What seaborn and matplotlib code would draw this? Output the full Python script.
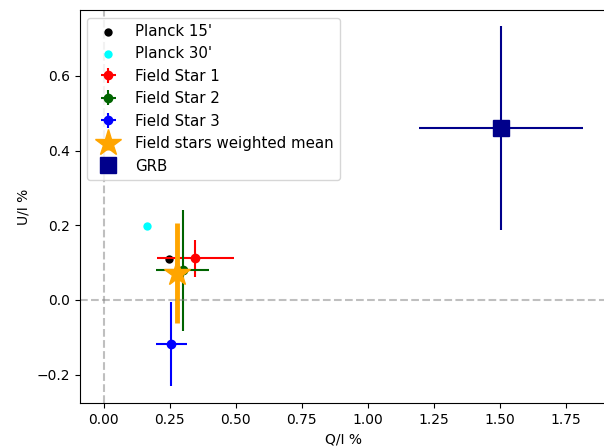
import numpy as np
import pandas as pd
import matplotlib
matplotlib.use('Agg')
import matplotlib.pyplot as plt
import seaborn as sns

# Planck 偏振点
planck_labels = ["Planck 15'", "Planck 30'"]
planck_q = [0.249, 0.165]
planck_u = [0.110, 0.198]
planck_colors = ['black', 'cyan']

# 视场星 (Q, U 及误差)
star_labels = ['Field Star 1', 'Field Star 2', 'Field Star 3']
star_q = [0.347, 0.299, 0.257]
star_u = [0.111, 0.080, -0.118]
star_qerr = [0.146, 0.100, 0.058]
star_uerr = [0.050, 0.162, 0.112]
star_colors = ['red', 'darkgreen', 'blue']

# 加权平均
mean_q = [0.278]
mean_u = [0.072]
mean_uerr = [0.133]

# GRB
grb_q = [1.505]
grb_u = [0.460]
grb_qerr = [0.310]
grb_uerr = [0.274]

fig = plt.figure(figsize=(6.04, 4.48), dpi=100)
ax = fig.add_axes([0.1318, 0.1004, 0.873, 0.877])

planck_df = pd.DataFrame({'Q': planck_q, 'U': planck_u})
for i in range(len(planck_labels)):
    sns.scatterplot(data=planck_df.iloc[[i]], x='Q', y='U', ax=ax,
                    color=planck_colors[i], s=36, linewidth=0,
                    label=planck_labels[i])

for i in range(len(star_labels)):
    ax.errorbar(star_q[i], star_u[i], xerr=star_qerr[i], yerr=star_uerr[i],
                fmt='o', color=star_colors[i], label=star_labels[i])

ax.errorbar(mean_q, mean_u, yerr=mean_uerr, fmt='*', color='orange',
            markersize=20, elinewidth=3.5, label='Field stars weighted mean')

ax.errorbar(grb_q, grb_u, xerr=grb_qerr, yerr=grb_uerr, fmt='s',
            color='darkblue', markersize=11, label='GRB')

ax.axhline(0, color='gray', linestyle='--', alpha=0.5)
ax.axvline(0, color='gray', linestyle='--', alpha=0.5)

ax.set_xlim(-0.091, 1.906)
ax.set_ylim(-0.276, 0.776)
ax.set_xlabel('Q/I %')
ax.set_ylabel('U/I %')
ax.legend(loc='upper left', fontsize=10.8)

plt.savefig('out.png', dpi=100)
